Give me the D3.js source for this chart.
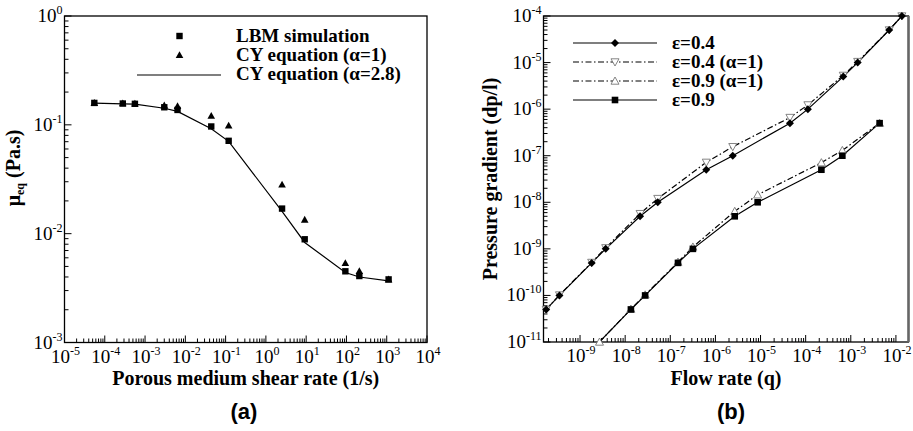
<!DOCTYPE html>
<html>
<head>
<meta charset="utf-8">
<script src="https://cdn.jsdelivr.net/npm/d3@7"></script>
<style>
  body { margin: 0; background: #fff; }
  svg { display: block; }
</style>
</head>
<body>
<svg id="chart" width="913" height="431"></svg>
<script>
// (a) equivalent viscosity vs porous medium shear rate
const shearRate = [5.5e-5, 2.8e-4, 5.6e-4, 3.0e-3, 6.4e-3, 0.044, 0.119, 2.52, 9.2, 94, 209, 1114];
const lbmSim    = [0.159, 0.157, 0.156, 0.145, 0.137, 0.0966, 0.0713, 0.0170, 0.00888, 0.00451, 0.00408, 0.00380];
const cyAlpha1  = [0.159, 0.158, 0.157, 0.151, 0.149, 0.121, 0.0987, 0.0283, 0.01346, 0.00538, 0.00454, 0.00380];
const cyAlpha28 = [0.158, 0.156, 0.155, 0.142, 0.133, 0.092, 0.0705, 0.0160, 0.0083, 0.00440, 0.00400, 0.00368];
const legendA = ['LBM simulation', 'CY equation (\u03b1=1)', 'CY equation (\u03b1=2.8)'];

// (b) pressure gradient vs flow rate
const q04     = [1.78e-10, 3.5e-10, 1.81e-9, 3.7e-9, 2.14e-8, 5.27e-8, 6.27e-7, 2.42e-6, 4.48e-5, 1.12e-4, 6.8e-4, 1.42e-3, 7.1e-3, 1.355e-2];
const dp04    = [5e-11, 1e-10, 5e-10, 1e-9, 5e-9, 1e-8, 5e-8, 1e-7, 5e-7, 1e-6, 5e-6, 1e-5, 5e-5, 1e-4];
const dp04a1  = [5e-11, 1.02e-10, 5.1e-10, 1.05e-9, 5.7e-9, 1.2e-8, 7.2e-8, 1.56e-7, 6.6e-7, 1.23e-6, 5.3e-6, 1.05e-5, 5e-5, 1e-4];
const q09     = [1.34e-9, 1.34e-8, 2.77e-8, 1.48e-7, 3.17e-7, 2.68e-6, 8.63e-6, 2.23e-4, 6.5e-4, 4.35e-3];
const dp09    = [5e-12, 5e-11, 1e-10, 5e-10, 1e-9, 5e-9, 1e-8, 5e-8, 1e-7, 5e-7];
const q09a1   = [2.7e-9, 1.34e-8, 2.77e-8, 1.48e-7, 3.17e-7, 2.68e-6, 8.63e-6, 2.23e-4, 6.5e-4, 4.35e-3];
const dp09a1  = [1e-11, 5.1e-11, 1.03e-10, 5.2e-10, 1.1e-9, 6.4e-9, 1.45e-8, 7.1e-8, 1.3e-7, 5e-7];
const legendB = ['\u03b5=0.4', '\u03b5=0.4 (\u03b1=1)', '\u03b5=0.9 (\u03b1=1)', '\u03b5=0.9'];

const SERIF = '"Liberation Serif", "Times New Roman", Times, serif';
const svg = d3.select('#chart');

const marker = {
  square: s => `M${-s},${-s}h${2 * s}v${2 * s}h${-2 * s}Z`,
  diamond: s => `M0,${-s}L${s},0L0,${s}L${-s},0Z`,
  triUp: s => `M0,${-s}L${s},${s * 0.8}L${-s},${s * 0.8}Z`,
  triDown: s => `M0,${s}L${s},${-s * 0.8}L${-s},${-s * 0.8}Z`
};

function expLabel(sel, e) {
  sel.append('tspan').text('10');
  sel.append('tspan').attr('dy', -8).attr('font-size', 12).text(String(e));
}

function drawPanel(id, box, x, y, xExp, yExp) {
  const g = svg.append('g');
  g.append('clipPath').attr('id', id).append('rect')
    .attr('x', box.l).attr('y', box.t).attr('width', box.r - box.l).attr('height', box.b - box.t);

  // minor + major ticks, inward, left and bottom only
  const ticks = g.append('g').attr('stroke', '#000').attr('stroke-width', 1);
  for (let e = xExp[0]; e <= xExp[1]; e++) {
    for (let k = 1; k <= 9; k++) {
      const v = k * Math.pow(10, e);
      const px = x(v);
      if (px < box.l - 0.5 || px > box.r + 0.5) continue;
      ticks.append('line').attr('x1', px).attr('x2', px)
        .attr('y1', box.b).attr('y2', box.b - (k === 1 ? 7 : 4));
    }
  }
  for (let e = yExp[0]; e <= yExp[1]; e++) {
    for (let k = 1; k <= 9; k++) {
      const v = k * Math.pow(10, e);
      const py = y(v);
      if (py < box.t - 0.5 || py > box.b + 0.5) continue;
      ticks.append('line').attr('y1', py).attr('y2', py)
        .attr('x1', box.l).attr('x2', box.l + (k === 1 ? 7 : 4));
    }
  }

  g.append('rect').attr('x', box.l).attr('y', box.t)
    .attr('width', box.r - box.l).attr('height', box.b - box.t)
    .attr('fill', 'none').attr('stroke', '#000').attr('stroke-width', 1.3);

  const lab = g.append('g').attr('font-family', SERIF).attr('font-size', 19).attr('fill', '#000');
  for (let e = xExp[0]; e <= xExp[1]; e++) {
    const px = x(Math.pow(10, e));
    if (px < box.l - 1 || px > box.r + 1) continue;
    lab.append('text').attr('x', px + 1).attr('y', box.b + 20).attr('text-anchor', 'middle')
      .call(expLabel, e);
  }
  for (let e = yExp[0]; e <= yExp[1]; e++) {
    const py = y(Math.pow(10, e));
    lab.append('text').attr('x', box.l - 2).attr('y', py + 6).attr('text-anchor', 'end')
      .call(expLabel, e);
  }
  return g;
}

function drawSeries(g, clipId, x, y, xs, ys, opt) {
  const pts = xs.map((d, i) => [x(d), y(ys[i])]);
  const line = d3.line();
  g.append('path').attr('d', line(pts)).attr('fill', 'none')
    .attr('clip-path', `url(#${clipId})`)
    .attr('stroke', opt.stroke || '#000').attr('stroke-width', 1.2)
    .attr('stroke-dasharray', opt.dash || null);
}

function drawMarkers(g, x, y, xs, ys, opt, yMin) {
  xs.forEach((d, i) => {
    if (ys[i] < yMin * 0.99) return;
    g.append('path').attr('d', opt.shape(opt.size))
      .attr('transform', `translate(${x(d)},${y(ys[i])})`)
      .attr('fill', opt.fill).attr('stroke', opt.mstroke || 'none').attr('stroke-width', 0.9);
  });
}

// ---------- panel (a)
const boxA = { l: 64.5, r: 427, t: 16, b: 342.5 };
const xA = d3.scaleLog().domain([1e-5, 1e4]).range([boxA.l, boxA.r]);
const yA = d3.scaleLog().domain([1e-3, 1]).range([boxA.b, boxA.t]);
const gA = drawPanel('clipA', boxA, xA, yA, [-5, 4], [-3, 0]);

drawSeries(gA, 'clipA', xA, yA, shearRate, cyAlpha28, {});
drawMarkers(gA, xA, yA, shearRate, cyAlpha1, { shape: marker.triUp, size: 3.8, fill: '#000' }, 1e-3);
drawMarkers(gA, xA, yA, shearRate, lbmSim, { shape: marker.square, size: 3.2, fill: '#000' }, 1e-3);

const legA = gA.append('g').attr('font-family', SERIF).attr('font-weight', 'bold').attr('font-size', 19);
legA.append('path').attr('d', marker.square(3.2)).attr('transform', 'translate(179.5,36)');
legA.append('path').attr('d', marker.triUp(3.8)).attr('transform', 'translate(179.5,55)');
legA.append('line').attr('x1', 137).attr('x2', 221).attr('y1', 75).attr('y2', 75)
  .attr('stroke', '#000').attr('stroke-width', 1.2);
legendA.forEach((t, i) => {
  legA.append('text').attr('x', 236).attr('y', 42 + i * 19).text(t);
});

gA.append('text').attr('transform', 'translate(20,168) rotate(-90)')
  .attr('text-anchor', 'middle').attr('font-family', SERIF).attr('font-weight', 'bold').attr('font-size', 20)
  .call(t => {
    t.append('tspan').text('\u03bc');
    t.append('tspan').attr('dy', 4).attr('font-size', 12).text('eq');
    t.append('tspan').attr('dy', -4).text(' (Pa.s)');
  });
gA.append('text').attr('x', (boxA.l + boxA.r) / 2).attr('y', 385).attr('text-anchor', 'middle')
  .attr('font-family', SERIF).attr('font-weight', 'bold').attr('font-size', 20)
  .text('Porous medium shear rate (1/s)');
gA.append('text').attr('x', 244).attr('y', 419).attr('text-anchor', 'middle')
  .attr('font-family', '"Liberation Sans", Arial, sans-serif').attr('font-weight', 'bold').attr('font-size', 22)
  .text('(a)');

// ---------- panel (b)
const boxB = { l: 543.5, r: 908.5, t: 16, b: 342 };
const xB = d3.scaleLog().domain([1.55e-10, 1.9e-2]).range([boxB.l, boxB.r]);
const yB = d3.scaleLog().domain([1e-11, 1e-4]).range([boxB.b, boxB.t]);
const gB = drawPanel('clipB', boxB, xB, yB, [-10, -2], [-11, -4]);
gB.append('line').attr('x1', boxB.r).attr('x2', boxB.r).attr('y1', boxB.t).attr('y2', boxB.b)
  .attr('stroke', '#666').attr('stroke-width', 2.5);

const DASHDOT = '6,2.5,1.5,2.5';
const sB = [
  { xs: q04, ys: dp04a1, dash: DASHDOT, shape: marker.triDown, size: 4, fill: '#fff', mstroke: '#777' },
  { xs: q09a1, ys: dp09a1, dash: DASHDOT, shape: marker.triUp, size: 4, fill: '#fff', mstroke: '#777' },
  { xs: q04, ys: dp04, dash: null, shape: marker.diamond, size: 4, fill: '#000' },
  { xs: q09, ys: dp09, dash: null, shape: marker.square, size: 3.3, fill: '#000' }
];
sB.forEach(s => drawSeries(gB, 'clipB', xB, yB, s.xs, s.ys, s));
sB.forEach(s => drawMarkers(gB, xB, yB, s.xs, s.ys, s, 1e-11));

// legend order: eps 0.4, eps 0.4 a=1, eps 0.9 a=1, eps 0.9
const legOrder = [sB[2], sB[0], sB[1], sB[3]];
const legB = gB.append('g').attr('font-family', SERIF).attr('font-weight', 'bold').attr('font-size', 19);
legOrder.forEach((s, i) => {
  const ly = 43 + i * 19;
  legB.append('line').attr('x1', 573).attr('x2', 657).attr('y1', ly).attr('y2', ly)
    .attr('stroke', '#000').attr('stroke-width', 1.2).attr('stroke-dasharray', s.dash);
  legB.append('path').attr('d', s.shape(s.size)).attr('transform', `translate(615,${ly})`)
    .attr('fill', s.fill).attr('stroke', s.mstroke || 'none').attr('stroke-width', 0.9);
  legB.append('text').attr('x', 672).attr('y', ly + 6).text(legendB[i]);
});

gB.append('text').attr('transform', 'translate(497,179) rotate(-90)')
  .attr('text-anchor', 'middle').attr('font-family', SERIF).attr('font-weight', 'bold').attr('font-size', 20)
  .text('Pressure gradient (dp/l)');
gB.append('text').attr('x', (boxB.l + boxB.r) / 2).attr('y', 385).attr('text-anchor', 'middle')
  .attr('font-family', SERIF).attr('font-weight', 'bold').attr('font-size', 20)
  .text('Flow rate (q)');
gB.append('text').attr('x', 731).attr('y', 419).attr('text-anchor', 'middle')
  .attr('font-family', '"Liberation Sans", Arial, sans-serif').attr('font-weight', 'bold').attr('font-size', 22)
  .text('(b)');
</script>
</body>
</html>
